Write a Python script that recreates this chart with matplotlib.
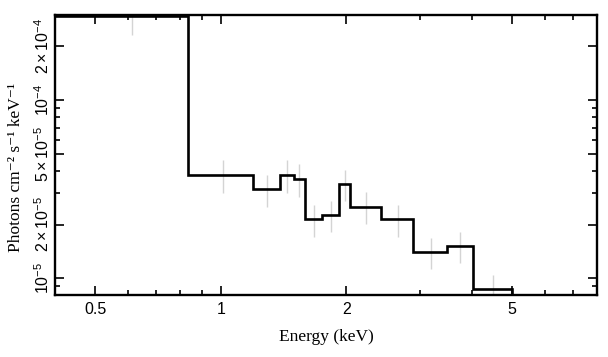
import numpy as np
import matplotlib
matplotlib.use("Agg")
import matplotlib.pyplot as plt
from matplotlib.ticker import FixedLocator, FixedFormatter, LogLocator, NullFormatter

# Bin edges (keV) and fluxes (photons cm^-2 s^-1 keV^-1)
edges = [0.39, 0.833, 1.194, 1.384, 1.496, 1.592, 1.753, 1.921, 2.043, 2.420, 2.894, 3.501, 4.022, 5.006]
flux = [2.96e-4, 3.80e-5, 3.16e-5, 3.80e-5, 3.61e-5, 2.15e-5, 2.26e-5, 3.38e-5, 2.52e-5, 2.14e-5, 1.40e-5, 1.52e-5, 8.68e-6]
flux_err = [0.65e-4, 0.80e-5, 0.64e-5, 0.80e-5, 0.75e-5, 0.44e-5, 0.45e-5, 0.66e-5, 0.51e-5, 0.44e-5, 0.28e-5, 0.30e-5, 0.17e-5]

xticks = [0.5, 1, 2, 5]
xticklabels = ["0.5", "1", "2", "5"]
yticks = [1e-5, 2e-5, 5e-5, 1e-4, 2e-4]
yticklabels = [r"$10^{-5}$", r"$2\times10^{-5}$", r"$5\times10^{-5}$", r"$10^{-4}$", r"$2\times10^{-4}$"]

plt.rcParams['mathtext.fontset'] = 'custom'
plt.rcParams['mathtext.rm'] = 'Liberation Sans'
plt.rcParams['mathtext.it'] = 'Liberation Sans:italic'
plt.rcParams['font.family'] = ['Liberation Sans', 'DejaVu Sans']

fig = plt.figure(figsize=(6.08, 3.57), dpi=100)
ax = fig.add_axes([55/608, 1-295/357, (597-55)/608, (295-15)/357])

e = np.array(edges)
centers = (e[:-1] + e[1:]) / 2
ax.vlines(centers, np.array(flux) - np.array(flux_err), np.array(flux) + np.array(flux_err),
          color='#d4d4d4', lw=1.0, zorder=1)

# step histogram, dropping to zero after last bin
ax.stairs(flux, edges, color='black', lw=1.9, zorder=3, baseline=None)
ax.plot([edges[-1], edges[-1]], [flux[-1], 1e-9], color='black', lw=1.9, zorder=3)

ax.set_xscale('log')
ax.set_yscale('log')
ax.set_xlim(0.4, 8.0)
ax.set_ylim(8.05e-6, 3.0e-4)

ax.xaxis.set_major_locator(FixedLocator(xticks))
ax.xaxis.set_major_formatter(FixedFormatter(xticklabels))
ax.xaxis.set_minor_locator(LogLocator(base=10, subs=np.arange(2, 10)))
ax.xaxis.set_minor_formatter(NullFormatter())
ax.yaxis.set_major_locator(FixedLocator(yticks))
ax.yaxis.set_major_formatter(FixedFormatter(yticklabels))
ax.yaxis.set_minor_locator(LogLocator(base=10, subs=np.arange(2, 10)))
ax.yaxis.set_minor_formatter(NullFormatter())

for s in ax.spines.values():
    s.set_linewidth(1.7)
ax.tick_params(which='both', direction='in', top=True, right=True, width=1.2)
ax.tick_params(which='major', length=6.5)
ax.tick_params(which='minor', length=3.5)
ax.tick_params(axis='x', which='major', pad=5, labelsize=11.5)
ax.tick_params(axis='y', which='major', pad=2.5, labelsize=11.5)
for lab in ax.get_yticklabels():
    lab.set_rotation(90)
    lab.set_va('center')

ax.set_xlabel("Energy (keV)", family='Liberation Serif', fontsize=12.5, labelpad=9)
ax.set_ylabel("Photons cm\u207b\u00b2 s\u207b\u00b9 keV\u207b\u00b9",
              family=['Liberation Serif', 'DejaVu Serif'], fontsize=12.5)
ax.yaxis.set_label_coords(-0.058, 0.457)

fig.savefig("out.png", dpi=100)
